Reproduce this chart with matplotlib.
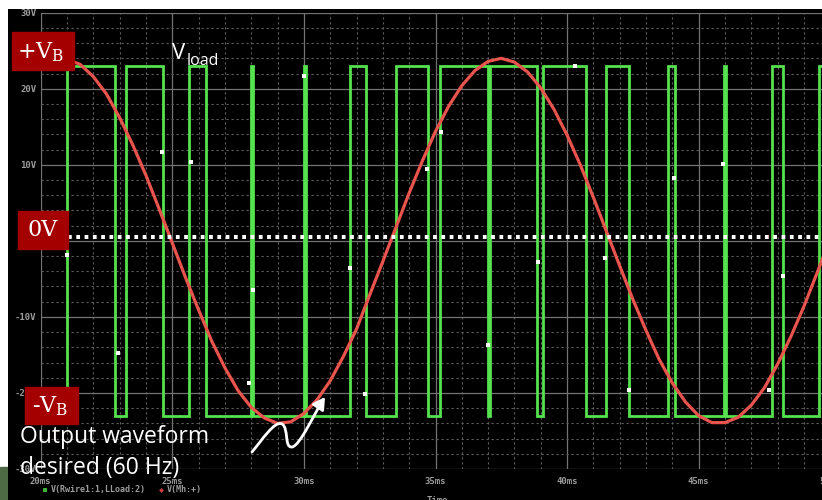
import numpy as np
import matplotlib
matplotlib.use("Agg")
import matplotlib.pyplot as plt
from matplotlib.patches import Rectangle, FancyArrowPatch
from matplotlib.path import Path
from matplotlib.ticker import MultipleLocator

# ---------------- data ----------------
time_ticks = [20, 25, 30, 35, 40, 45, 50]
time_labels = ["20ms", "25ms", "30ms", "35ms", "40ms", "45ms", "50ms"]
volt_ticks = [30, 20, 10, 0, -10, -20, -30]
volt_labels = ["30V", "20V", "10V", "0V", "-10V", "-20V", "-30V"]

# V(Rwire1:1,LLoad:2) : switched load voltage (step-post switching instants, ms)
green_t = [20.0, 20.99, 22.81, 23.23, 24.64, 25.63, 26.27, 27.98, 28.06, 30.00,
           30.08, 31.75, 32.36, 33.50, 34.71, 35.17, 37.00, 37.07, 38.86, 39.09,
           40.72, 41.48, 42.36, 43.84, 44.11, 45.97, 46.05, 47.79, 48.21, 49.58, 50.0]
green_v = [-23, 23, -23, 23, -23, 23, -23, 23, -23, 23,
           -23, 23, -23, 23, -23, 23, -23, 23, -23, 23,
           -23, 23, -23, 23, -23, 23, -23, 23, -23, 23, 23]

# V(Mh:+) : desired 60 Hz output (read every 0.5 ms)
red_t = [20.0, 20.5, 21.0, 21.5, 22.0, 22.5, 23.0, 23.5, 24.0, 24.5,
         25.0, 25.5, 26.0, 26.5, 27.0, 27.5, 28.0, 28.5, 29.0, 29.5,
         30.0, 30.5, 31.0, 31.5, 32.0, 32.5, 33.0, 33.5, 34.0, 34.5,
         35.0, 35.5, 36.0, 36.5, 37.0, 37.5, 38.0, 38.5, 39.0, 39.5,
         40.0, 40.5, 41.0, 41.5, 42.0, 42.5, 43.0, 43.5, 44.0, 44.5,
         45.0, 45.5, 46.0, 46.5, 47.0, 47.5, 48.0, 48.5, 49.0, 49.5, 50.0]
red_v = [22.9, 23.9, 23.9, 23.2, 21.6, 19.3, 16.2, 12.6, 8.6, 4.2,
         -0.3, -4.8, -9.1, -13.2, -16.7, -19.7, -21.9, -23.3, -24.0, -23.8,
         -22.7, -20.9, -18.4, -15.2, -11.6, -7.1, -2.7, 1.8, 6.3, 10.5,
         14.4, 17.7, 20.4, 22.4, 23.6, 24.0, 23.5, 22.2, 20.1, 17.3,
         13.9, 10.0, 5.7, 1.2, -3.3, -7.7, -11.8, -15.6, -18.7, -21.2,
         -23.0, -23.9, -23.9, -23.2, -21.6, -19.3, -16.2, -12.6, -8.6, -4.2, 0.3]

# white data-point markers drawn by the simulator
marker_t = [20.99, 22.93, 24.60, 25.70, 28.06, 27.91, 30.00, 31.75, 32.32, 35.21,
            34.68, 37.00, 40.31, 38.90, 41.44, 44.07, 42.36, 45.93, 48.21, 47.68]
marker_v = [-1.8, -14.7, 11.7, 10.4, -6.5, -18.7, 21.7, -3.6, -20.1, 14.3,
            9.5, -13.7, 23.0, -2.8, -2.2, 8.3, -19.6, 10.1, -4.6, -19.6]

legend_labels = ["V(Rwire1:1,LLoad:2)", "V(Mh:+)"]

# ---------------- figure ----------------
W, H = 822, 500
fig = plt.figure(figsize=(W / 100, H / 100), dpi=100, facecolor="white")

GREEN = "#55e24e"
RED = "#ec4f47"
BOX = "#a50000"
GRAY = "#9c9c9c"

# black scope panel
bg = fig.add_axes([8 / W, 0, 1 - 8 / W, 491 / H])
bg.set_facecolor("black")
bg.set_xticks([]); bg.set_yticks([])
for s in bg.spines.values():
    s.set_visible(False)

# slide background patch bottom-left
fig.add_artist(Rectangle((0, 0), 8 / W, 33 / H, transform=fig.transFigure,
                         color="#4e6a44", zorder=-1))

# data axes (extends slightly past the right edge, like the cropped screenshot)
x0, x1 = 40.7, 830.3
y_top, y_bot = 12.7, 469.0
ax = fig.add_axes([x0 / W, (H - y_bot) / H, (x1 - x0) / W, (y_bot - y_top) / H])
ax.set_facecolor("none")
ax.set_xlim(20, 50)
ax.set_ylim(-30, 30)
ax.set_xticks(time_ticks)
ax.set_xticklabels(time_labels)
ax.set_yticks(volt_ticks)
ax.set_yticklabels(volt_labels)
ax.xaxis.set_minor_locator(MultipleLocator(1))
ax.yaxis.set_minor_locator(MultipleLocator(2))
ax.grid(which="major", color="#737373", lw=0.9, ls="-", zorder=0)
ax.grid(which="minor", color="#5e5e5e", lw=0.8, ls=(0, (2, 2.5)), zorder=0)
ax.tick_params(which="both", length=0)
ax.tick_params(axis="x", pad=5.5, labelsize=6.5, labelcolor=GRAY)
ax.tick_params(axis="y", pad=3, labelsize=6.5, labelcolor=GRAY)
for lab in ax.get_xticklabels() + ax.get_yticklabels():
    lab.set_family("DejaVu Sans Mono")
    lab.set_fontweight("bold")
for s in ax.spines.values():
    s.set_visible(False)
ax.set_axisbelow(True)

ax.plot(green_t, green_v, drawstyle="steps-post", color=GREEN, lw=2.0, zorder=3,
        solid_joinstyle="miter")
ax.plot(red_t, red_v, color=RED, lw=2.3, zorder=4, solid_capstyle="round")
ax.plot(red_t, red_v, color="#b0a0a0", lw=0.6, ls=(0, (2, 4)), zorder=4, alpha=0.6)
ax.scatter(marker_t, marker_v, marker="s", s=9, color="white", zorder=5, linewidths=0)

# ---------------- overlay annotations (pixel coords) ----------------
ov = fig.add_axes([0, 0, 1, 1], zorder=10)
ov.set_xlim(0, W)
ov.set_ylim(H, 0)
ov.set_facecolor("none")
ov.axis("off")

# 0V dotted reference line
ov.plot([68, 822], [236.5, 236.5], color="white", lw=2.9, ls=(0, (0.93, 1.13)),
        dash_capstyle="butt")

serif = "DejaVu Serif"
plt.rcParams["mathtext.fontset"] = "dejavuserif"

ov.add_patch(Rectangle((12, 32), 62, 38, color=BOX, zorder=11))
ov.text(41, 52, r"+V$_\mathregular{B}$", color="white", fontsize=16, family=serif,
        ha="center", va="center", zorder=12)

ov.add_patch(Rectangle((18, 211), 50, 38, color=BOX, zorder=11))
ov.text(43, 230, "0V", color="white", fontsize=16, family=serif,
        ha="center", va="center", zorder=12)

ov.add_patch(Rectangle((25, 387), 53, 37, color=BOX, zorder=11))
ov.text(50, 406, r"-V$_\mathregular{B}$", color="white", fontsize=16, family=serif,
        ha="center", va="center", zorder=12)

ov.text(172, 59, "V", color="white", fontsize=16, family="Open Sans",
        ha="left", va="baseline", zorder=12)
ov.text(186.5, 65, "load", color="white", fontsize=11.5, family="Open Sans",
        ha="left", va="baseline", zorder=12)

ov.text(20, 443, "Output waveform", color="white", fontsize=16.5, family="Open Sans",
        ha="left", va="baseline", zorder=12)
ov.text(20, 474, "desired (60 Hz)", color="white", fontsize=16.5, family="Open Sans",
        ha="left", va="baseline", zorder=12)

verts = [(252, 452), (262, 440), (275, 420), (282, 424),
         (289, 428), (284, 448), (292, 447),
         (300, 446), (315, 412), (325, 397)]
codes = [Path.MOVETO] + [Path.CURVE4] * 9
arrow = FancyArrowPatch(path=Path(verts, codes), arrowstyle="-|>,head_length=7,head_width=4",
                        color="white", lw=2.0, shrinkA=0, shrinkB=0, zorder=12)
ov.add_patch(arrow)

# legend line
ov.scatter([45], [489.5], marker="s", s=7, color="#3cb43c", zorder=12, linewidths=0)
ov.text(51, 489.5, legend_labels[0], color=GRAY, fontsize=6, family="DejaVu Sans Mono",
        fontweight="bold", ha="left", va="center", zorder=12)
ov.scatter([161], [489.5], marker="D", s=6, color="#d04040", zorder=12, linewidths=0)
ov.text(167, 489.5, legend_labels[1], color=GRAY, fontsize=6, family="DejaVu Sans Mono",
        fontweight="bold", ha="left", va="center", zorder=12)
ov.text(427, 496, "Time", color=GRAY, fontsize=6.5, family="DejaVu Sans Mono",
        fontweight="bold", ha="left", va="top", zorder=12)

fig.savefig("out.png", dpi=100, facecolor="white")
